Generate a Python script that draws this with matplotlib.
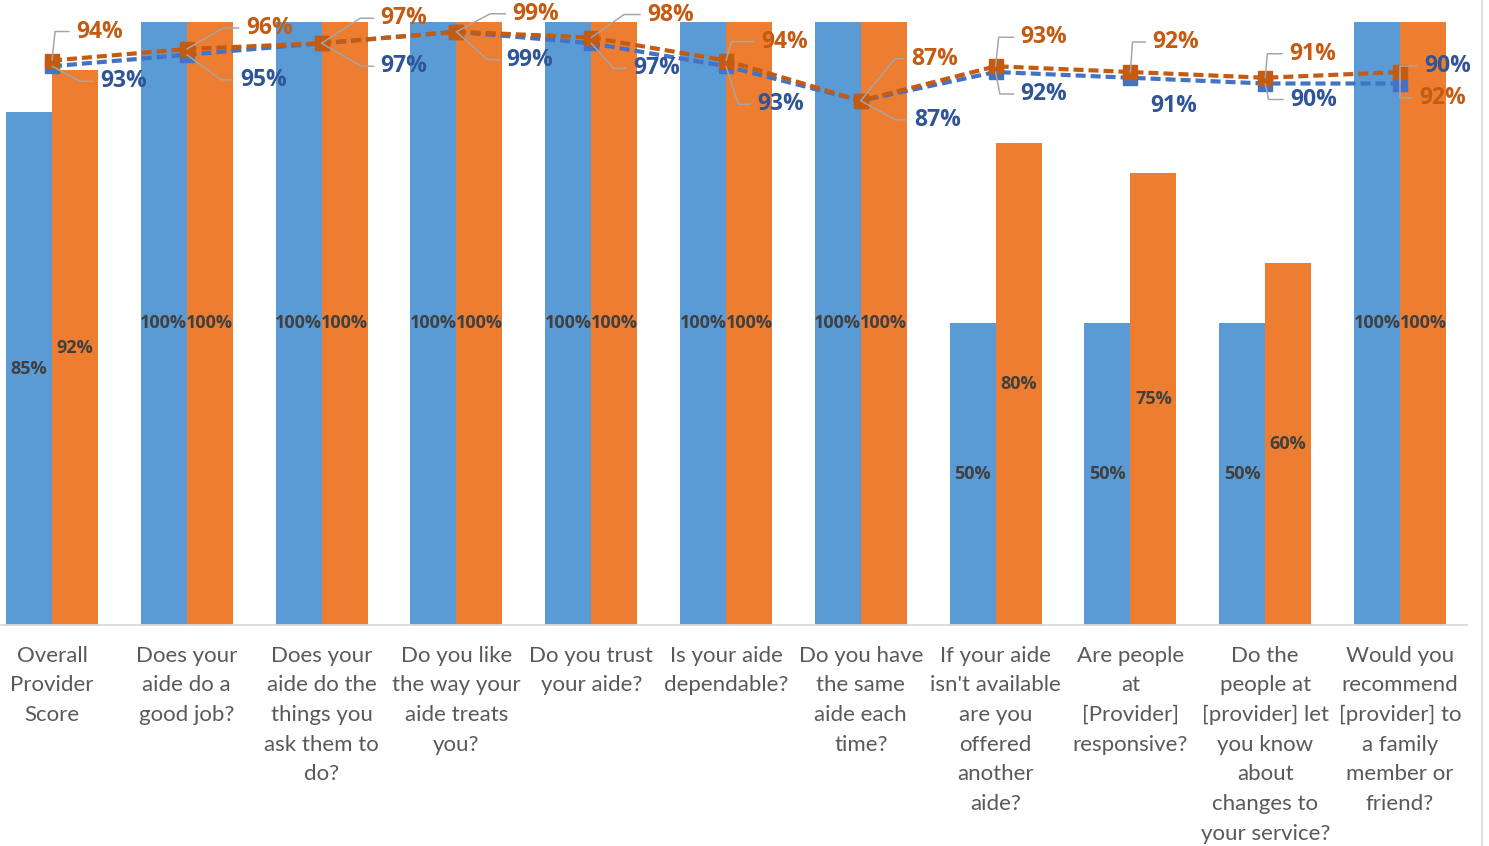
import numpy as np
import matplotlib.pyplot as plt
from matplotlib.lines import Line2D

plt.rcParams['font.family'] = ['Lato', 'DejaVu Sans']
BOLD_FAM = ["Open Sans", "DejaVu Sans"]

# category labels (wrapped as in the original)
categories = [
    "Overall\nProvider\nScore",
    "Does your\naide do a\ngood job?",
    "Does your\naide do the\nthings you\nask them to\ndo?",
    "Do you like\nthe way your\naide treats\nyou?",
    "Do you trust\nyour aide?",
    "Is your aide\ndependable?",
    "Do you have\nthe same\naide each\ntime?",
    "If your aide\nisn't available\nare you\noffered\nanother\naide?",
    "Are people\nat\n[Provider]\nresponsive?",
    "Do the\npeople at\n[provider] let\nyou know\nabout\nchanges to\nyour service?",
    "Would you\nrecommend\n[provider] to\na family\nmember or\nfriend?",
]

# bar series (%)
bar_blue = [85, 100, 100, 100, 100, 100, 100, 50, 50, 50, 100]
bar_orange = [92, 100, 100, 100, 100, 100, 100, 80, 75, 60, 100]

# line series (%) on the secondary axis
line_blue = [93, 95, 97, 99, 97, 93, 87, 92, 91, 90, 90]
line_orange = [94, 96, 97, 99, 98, 94, 87, 93, 92, 91, 92]

# label placement: (dx px, dy px, leader angle) from each marker
orange_pos = [(24, 29, 84), (59, 21, 30), (59, 25, 33), (56, 18, 28), (56, 23, 35),
              (35, 19, 74), (50, 42, 51), (25, 29, 84), (22, 30, 86), (24, 24, 85),
              (19, -26, -90)]
blue_pos = [(48, -15, -28), (53, -25, -36), (59, -23, -30), (50, -28, -42), (42, -25, -48),
            (31, -38, -72), (53, -19, -29), (25, -22, -79), (20, -28, None), (25, -16, -78),
            (24, 18, 90)]

BAR_BLUE = "#5B9BD5"
BAR_ORANGE = "#ED7D31"
LINE_BLUE = "#4472C4"
LINE_ORANGE = "#C55A11"
TXT_BLUE = "#2F5597"
TXT_ORANGE = "#C55A11"
LEADER = "#A6A6A6"

W, H = 1489, 846
fig = plt.figure(figsize=(W / 100, H / 100), dpi=100)
fig.patch.set_facecolor("white")

# axes are slightly cropped on the left, like the source screenshot
spacing = 134.8
left_px = 52 - spacing / 2
ax = fig.add_axes([left_px / W, (H - 625) / H, 11 * spacing / W, 603 / H])

x = np.arange(len(categories))
bw = 0.341
b1 = ax.bar(x - bw / 2, bar_blue, bw, color=BAR_BLUE, zorder=2)
b2 = ax.bar(x + bw / 2, bar_orange, bw, color=BAR_ORANGE, zorder=2)
for bars, vals in [(b1, bar_blue), (b2, bar_orange)]:
    ax.bar_label(bars, labels=[f"{v}%" for v in vals], label_type="center",
                 fontsize=13, fontweight="bold", color="#404040", family=BOLD_FAM)

ax.set_xlim(-0.5, len(categories) - 0.5)
ax.set_ylim(0, 100)
ax.set_yticks([])
ax.set_xticks(x)
ax.set_xticklabels(categories, fontsize=16, color="#595959", linespacing=1.6,
                   ha="center", multialignment="center")
ax.tick_params(axis="x", length=0, pad=15)
for s in ["top", "left", "right"]:
    ax.spines[s].set_visible(False)
ax.spines["bottom"].set_color("#D9D9D9")
ax.spines["bottom"].set_linewidth(1.3)

# secondary axis for the dashed lines
ax2 = ax.twinx()
ax2.set_ylim(-4.2, 100.7)
ax2.set_yticks([])
for s in ax2.spines.values():
    s.set_visible(False)

ax2.plot(x, line_blue, color=LINE_BLUE, lw=3, dashes=(2.4, 1.2),
         marker="s", markersize=10.5, markerfacecolor=LINE_BLUE, markeredgecolor=LINE_BLUE)
ax2.plot(x, line_orange, color=LINE_ORANGE, lw=3, dashes=(2.4, 1.2),
         marker="s", markersize=10.5, markerfacecolor=LINE_ORANGE, markeredgecolor=LINE_ORANGE)


def label_points(vals, positions, color):
    for xi, v, (dx, dy, ang) in zip(x, vals, positions):
        kw = dict(textcoords="offset pixels", ha="left", va="center", fontsize=16.5,
                  fontweight="bold", family=BOLD_FAM, color=color,
                  annotation_clip=False)
        if ang is not None:
            kw["arrowprops"] = dict(arrowstyle="-", color=LEADER, lw=1.1, shrinkA=3, shrinkB=0,
                                    connectionstyle=f"angle,angleA=0,angleB={ang},rad=0")
        ax2.annotate(f"{v}%", xy=(xi, v), xytext=(dx, dy), **kw)


label_points(line_blue, blue_pos, TXT_BLUE)
label_points(line_orange, orange_pos, TXT_ORANGE)

# light border on the right, as in the screenshot
fig.add_artist(Line2D([1482 / W, 1482 / W], [0, 1], color="#D9D9D9", lw=1.2))

fig.savefig("out.png", dpi=100)
plt.close(fig)
